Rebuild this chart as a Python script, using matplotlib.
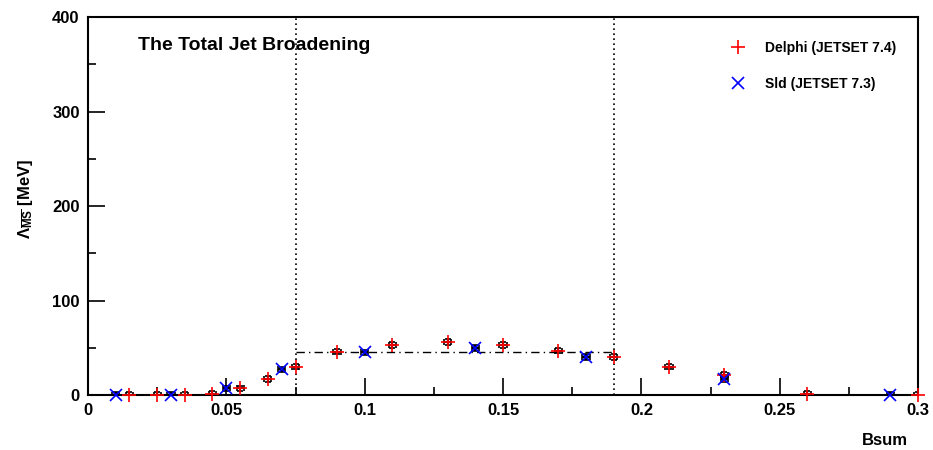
import numpy as np
import matplotlib
matplotlib.use('Agg')
import matplotlib.pyplot as plt
from matplotlib.ticker import MultipleLocator

plt.rcParams['font.family'] = ['Liberation Sans', 'DejaVu Sans']
plt.rcParams['font.weight'] = 'bold'
plt.rcParams['mathtext.fontset'] = 'custom'
plt.rcParams['mathtext.rm'] = 'Liberation Sans'
plt.rcParams['mathtext.it'] = 'Liberation Sans:italic'
plt.rcParams['mathtext.bf'] = 'Liberation Sans:bold'

# Delphi (JETSET 7.4)
delphi_x = [0.015, 0.025, 0.035, 0.045, 0.055, 0.065, 0.075, 0.09, 0.11,
            0.13, 0.15, 0.17, 0.19, 0.21, 0.23, 0.26, 0.30]
delphi_y = [0, 0, 0, 1, 7, 17, 30, 46, 53, 56, 53, 47, 40, 30, 21, 1, 0]

# Sld (JETSET 7.3)
sld_x = [0.01, 0.03, 0.05, 0.07, 0.10, 0.14, 0.18, 0.23, 0.29]
sld_y = [0, 0, 7, 27, 45, 50, 40, 17, 0]

fit_range = [0.075, 0.19]
fit_value = 45

fig = plt.figure(figsize=(9.33, 4.5), dpi=100)
ax = fig.add_axes([0.0943, 0.1222, 0.8897, 0.84])

# error bars in black under the markers
ax.errorbar(delphi_x, delphi_y, yerr=3, xerr=0.0013, fmt='none', ecolor='black',
            elinewidth=1.5, capsize=2, capthick=1.2, zorder=2)
ax.errorbar(sld_x, sld_y, yerr=3, xerr=0.0013, fmt='none', ecolor='black',
            elinewidth=1.5, capsize=2, capthick=1.2, zorder=2)

ax.plot(delphi_x, delphi_y, '+', color='red', markersize=10, mew=1.2,
        linestyle='none', label='Delphi (JETSET 7.4)', zorder=3, clip_on=False)
ax.plot(sld_x, sld_y, 'x', color='blue', markersize=9, mew=1.2,
        linestyle='none', label='Sld (JETSET 7.3)', zorder=3, clip_on=False)

ax.plot(fit_range, [fit_value, fit_value], color='black', linestyle=(0, (6, 3, 1, 3)),
        linewidth=1, zorder=1)
for xv in fit_range:
    ax.axvline(xv, color='black', linestyle=(0, (1, 2)), linewidth=1.2, zorder=1)

ax.set_xlim(0, 0.3)
ax.set_ylim(0, 400)
ax.xaxis.set_major_locator(MultipleLocator(0.05))
ax.xaxis.set_minor_locator(MultipleLocator(0.025))
ax.yaxis.set_major_locator(MultipleLocator(100))
ax.yaxis.set_minor_locator(MultipleLocator(50))
ax.set_xticks([0, 0.05, 0.1, 0.15, 0.2, 0.25, 0.3])
ax.set_xticklabels(['0', '0.05', '0.1', '0.15', '0.2', '0.25', '0.3'])
ax.tick_params(which='major', direction='in', length=12, width=1.2, labelsize=12, pad=6)
ax.tick_params(which='minor', direction='in', length=6, width=1.2)
for lab in ax.get_xticklabels() + ax.get_yticklabels():
    lab.set_fontweight('bold')
for s in ax.spines.values():
    s.set_linewidth(1.5)

ax.set_xlabel('Bsum', fontsize=12, fontweight='bold')
ax.xaxis.set_label_coords(0.96, -0.1)
ax.set_ylabel(r'$\mathrm{\Lambda}_{\overline{\mathrm{MS}}}$ $\mathbf{[MeV]}$', fontsize=12)
ax.yaxis.set_label_coords(-0.064, 0.52)

ax.text(0.06, 0.925, 'The Total Jet Broadening', transform=ax.transAxes,
        fontsize=14, fontweight='bold', va='center')

leg = ax.legend(loc='upper right', bbox_to_anchor=(0.995, 0.985), frameon=False,
                fontsize=10, handlelength=1.5, handletextpad=1.2, labelspacing=1.6,
                borderpad=0.8)
for t in leg.get_texts():
    t.set_fontweight('bold')

fig.savefig('out.png', dpi=100)
